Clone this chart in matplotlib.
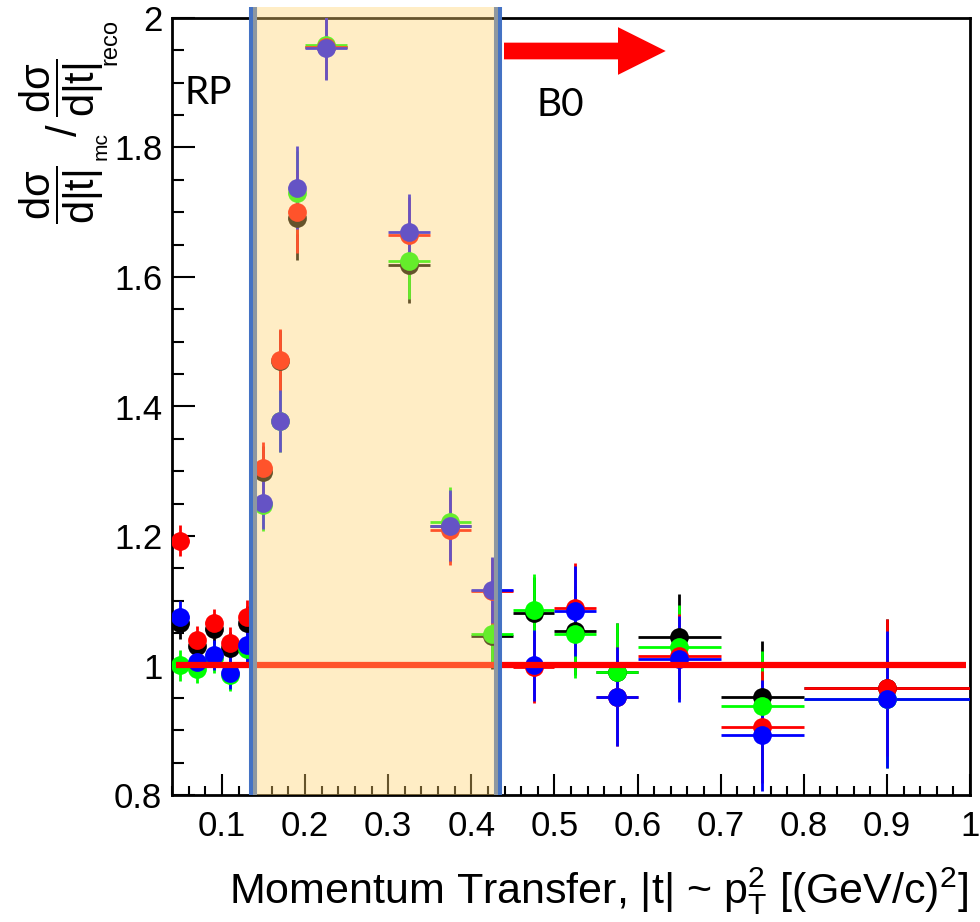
import numpy as np
import matplotlib
matplotlib.use("Agg")
import matplotlib.pyplot as plt
from matplotlib.patches import Rectangle, FancyArrow
from matplotlib.ticker import MultipleLocator, FormatStrFormatter

plt.rcParams['font.family'] = ['Liberation Sans', 'DejaVu Sans']
plt.rcParams['mathtext.fontset'] = 'custom'
plt.rcParams['mathtext.rm'] = 'Liberation Sans'
plt.rcParams['mathtext.it'] = 'Liberation Sans:italic'
plt.rcParams['mathtext.default'] = 'regular'

# bin centres and half widths in |t|
t_mid = [0.05, 0.07, 0.09, 0.11, 0.13, 0.15, 0.17, 0.19, 0.225, 0.325,
         0.375, 0.425, 0.475, 0.525, 0.575, 0.65, 0.75, 0.9]
t_half = [0.01, 0.01, 0.01, 0.01, 0.01, 0.01, 0.01, 0.01, 0.025, 0.025,
          0.025, 0.025, 0.025, 0.025, 0.025, 0.05, 0.05, 0.1]

# ratio mc/reco for the four samples
ratio_black = [1.065, 1.030, 1.056, 1.027, 1.066, 1.299, 1.470, 1.691, 1.955, 1.619,
               1.215, 1.045, 1.081, 1.054, 0.990, 1.044, 0.952, 0.966]
ratio_green = [1.000, 0.995, 1.011, 0.985, 1.025, 1.248, 1.378, 1.730, 1.958, 1.625,
               1.221, 1.048, 1.086, 1.049, 0.990, 1.028, 0.937, 0.948]
ratio_red = [1.193, 1.039, 1.065, 1.034, 1.075, 1.305, 1.472, 1.701, 1.955, 1.665,
             1.210, 1.115, 0.997, 1.089, 0.952, 1.014, 0.905, 0.966]
ratio_blue = [1.075, 1.005, 1.016, 0.989, 1.031, 1.251, 1.378, 1.738, 1.954, 1.669,
              1.216, 1.117, 1.000, 1.084, 0.952, 1.010, 0.892, 0.948]
ratio_err = [0.024, 0.022, 0.023, 0.025, 0.026, 0.040, 0.048, 0.064, 0.049, 0.059,
             0.055, 0.051, 0.055, 0.069, 0.076, 0.066, 0.086, 0.106]

# acceptance regions
rp_lo, rp_hi = 0.1374, 0.4322

fig = plt.figure(figsize=(9.8, 9.22), dpi=100)
ax = fig.add_axes([172/980, 127/922, 798/980, 777/922])

series = [(ratio_black, 'black'), (ratio_green, '#00ff00'),
          (ratio_red, 'red'), (ratio_blue, 'blue')]
for vals, col in series:
    ax.errorbar(t_mid, vals, xerr=t_half, yerr=ratio_err, fmt='o', color=col,
                ms=13.5, mew=0, elinewidth=2, capsize=0, zorder=3)

ax.hlines(1.0, 0.045, 0.995, color='red', lw=4.5, zorder=4)

ax.set_xlim(0.04, 1.0)
ax.set_ylim(0.8, 2.0)
ax.xaxis.set_major_locator(MultipleLocator(0.1))
ax.xaxis.set_minor_locator(MultipleLocator(0.02))
ax.yaxis.set_major_locator(MultipleLocator(0.2))
ax.yaxis.set_minor_locator(MultipleLocator(0.05))
ax.xaxis.set_major_formatter(FormatStrFormatter('%g'))
ax.yaxis.set_major_formatter(FormatStrFormatter('%g'))
ax.tick_params(which='both', direction='in', top=False, right=False, width=1.5)
ax.tick_params(axis='x', which='major', length=15, labelsize=25, pad=11)
ax.tick_params(axis='x', which='minor', length=6.5)
ax.tick_params(axis='y', which='major', length=16.5, labelsize=25, pad=7)
ax.tick_params(axis='y', which='minor', length=8.5)
for sp in ax.spines.values():
    sp.set_linewidth(2)

# RP region: blue border with translucent fill on top
ax.vlines([rp_lo, rp_hi], 0.8, 2.017, color='#4472C4', lw=5.8, zorder=5, clip_on=False)
ax.add_patch(Rectangle((rp_lo, 0.8), rp_hi - rp_lo, 1.217, facecolor=(1.0, 0.824, 0.43),
                       alpha=0.4, lw=0, zorder=6, clip_on=False))

fig.text(185/980, 1 - 104/922, 'RP', fontsize=28, family='Lato', color='black')
fig.text(536/980, 1 - 116/922, 'B0', fontsize=28, family='Lato', color='black')
fig.add_artist(FancyArrow(5.04, 8.71, 1.617, 0, width=0.167, head_width=0.477,
                          head_length=0.477, length_includes_head=True, color='red',
                          lw=0, transform=fig.dpi_scale_trans))

# y title built from pieces (ROOT style fraction ratio)
frac = r'$\dfrac{d\sigma}{d|t|}$'
fig.text(62/980, 1 - 195/922, frac, rotation=90, ha='center', va='center', fontsize=30)
fig.text(101/980, 1 - 146/922, 'mc', rotation=90, ha='center', va='center', fontsize=15)
fig.text(66/980, 1 - 130/922, '/', rotation=90, ha='center', va='center', fontsize=30)
fig.text(62/980, 1 - 88/922, frac, rotation=90, ha='center', va='center', fontsize=30)
fig.text(110/980, 1 - 42/922, 'reco', rotation=90, ha='center', va='center', fontsize=17)

fig.text(968/980, 1 - 903/922,
         r'Momentum Transfer, |t| ~ $p_{T}^{2}$ [(GeV/c)$^{2}$]',
         ha='right', va='baseline', fontsize=31)

fig.savefig('out.png', dpi=100)
